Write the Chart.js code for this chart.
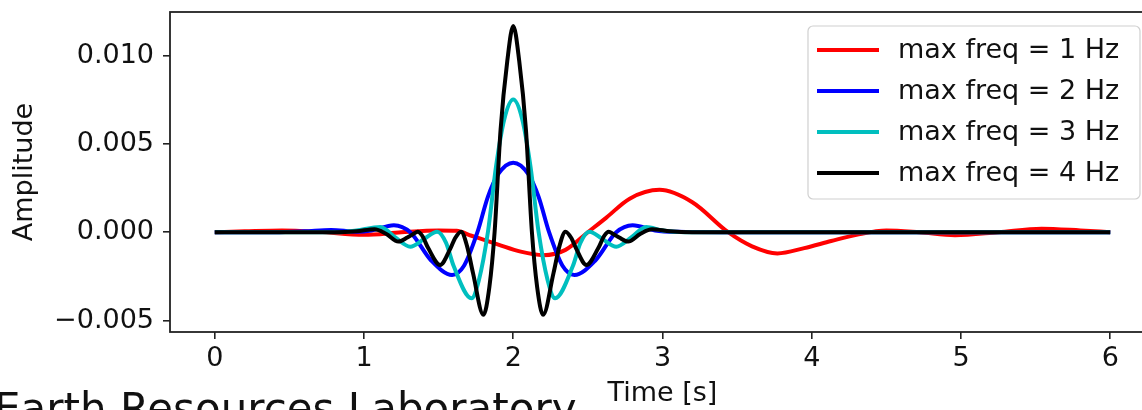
<!DOCTYPE html>
<html>
<head>
<meta charset="utf-8">
<script src="https://cdn.jsdelivr.net/npm/chart.js@4.4.1/dist/chart.umd.min.js"></script>
<style>
    html, body { margin: 0; padding: 0; background: #fff; overflow: hidden; }
    #wrap { position: relative; width: 1142px; height: 410px; overflow: hidden; }
    #box { position: absolute; left: 0; top: 0; width: 1160px; height: 410px; }
    #erl { position: absolute; left: -6px; top: 388px; font-family: "DejaVu Sans"; font-size: 42px;
           line-height: 42px; white-space: nowrap; color: #111; }
</style>
</head>
<body>
<div id="wrap">
    <div id="box"><canvas id="myChart"></canvas></div>
    <div id="erl">Earth Resources Laboratory</div>
</div>
<script>
// values (time in s, amplitude)
var seriesLabels = ["max freq = 1 Hz", "max freq = 2 Hz", "max freq = 3 Hz", "max freq = 4 Hz"];
var seriesColors = ["#ff0000", "#0000ff", "#00bfbf", "#000000"];

var time1 = [0, 0.2, 0.45, 0.7, 1.0, 1.25, 1.5, 1.62, 1.72, 1.9, 2.05, 2.2, 2.35, 2.5, 2.62, 2.78, 2.98, 3.2, 3.44, 3.6, 3.77, 3.95, 4.13, 4.3, 4.5, 4.72, 4.96, 5.25, 5.54, 5.8, 6.0];
var amp1 = [0, 0.00005, 0.0001, 0.00002, -0.00015, 0, 0.0001, 0.00008, -0.0002, -0.0007, -0.0011, -0.0013, -0.001, 0, 0.0008, 0.0019, 0.0024, 0.0017, 0, -0.0008, -0.0012, -0.0009, -0.0005, -0.00015, 0.0001, 0, -0.00017, 0, 0.0002, 0.0001, 0];

var time2 = [0, 0.4, 0.6, 0.78, 0.95, 1.05, 1.2, 1.31, 1.45, 1.59, 1.67, 1.76, 1.83, 1.9, 2.0, 2.1, 2.17, 2.24, 2.33, 2.41, 2.55, 2.69, 2.8, 2.95, 3.1, 3.4, 4, 5, 6];
var amp2 = [0, 0, 0.00005, 0.00013, 0.00003, 0.0001, 0.0004, 0, -0.0016, -0.00242, -0.0019, 0, 0.002, 0.0033, 0.00394, 0.0033, 0.002, 0, -0.0019, -0.00242, -0.0016, 0, 0.0004, 0.0001, 0.00002, 0, 0, 0, 0];

var time3 = [0, 0.5, 0.85, 0.95, 1.11, 1.21, 1.31, 1.4, 1.49, 1.55, 1.6, 1.72, 1.77, 1.83, 1.885, 1.94, 2.0, 2.06, 2.115, 2.17, 2.23, 2.28, 2.4, 2.45, 2.51, 2.6, 2.69, 2.79, 2.89, 3.0, 3.15, 4, 5, 6];
var amp3 = [0, 0, 0, 0.0001, 0.0003, -0.0003, -0.00082, -0.0004, 0.00003, -0.0006, -0.0019, -0.00374, -0.0027, 0, 0.00375, 0.0064, 0.00751, 0.0064, 0.00375, 0, -0.0027, -0.00374, -0.0019, -0.0006, 0.00003, -0.0004, -0.00082, -0.0003, 0.0003, 0.0001, 0, 0, 0, 0];

var time4 = [0, 0.5, 0.8, 0.95, 1.07, 1.15, 1.23, 1.29, 1.33, 1.36, 1.39, 1.43, 1.51, 1.58, 1.61, 1.65, 1.69, 1.73, 1.8, 1.84, 1.875, 1.915, 1.96, 2.0, 2.04, 2.085, 2.125, 2.16, 2.2, 2.27, 2.31, 2.35, 2.39, 2.42, 2.49, 2.57, 2.61, 2.64, 2.67, 2.71, 2.77, 2.85, 2.93, 3.05, 3.2, 4, 5, 6];
var amp4 = [0, 0, 0, 0.00005, 0.00017, -0.0001, -0.00053, -0.0003, -0.0001, 0.00003, -0.0002, -0.0009, -0.00185, -0.0009, -0.00034, 0.00003, -0.00077, -0.0023, -0.00468, -0.0031, 0, 0.0058, 0.0097, 0.01168, 0.0097, 0.0058, 0, -0.0031, -0.00468, -0.0023, -0.00077, 0.00003, -0.00034, -0.0009, -0.00185, -0.0009, -0.0002, 0.00003, -0.0001, -0.0003, -0.00053, -0.0001, 0.00017, 0.00005, 0, 0, 0, 0];

var xTicks = [0, 1, 2, 3, 4, 5, 6];
var yTicks = [-0.005, 0, 0.005, 0.010];

var times = [time1, time2, time3, time4];
var amps = [amp1, amp2, amp3, amp4];

function toPoints(t, a) {
    return t.map(function (v, i) { return { x: v, y: a[i] }; });
}

var datasets = seriesLabels.map(function (lab, i) {
    return {
        label: lab,
        data: toPoints(times[i], amps[i]),
        borderColor: seriesColors[i],
        backgroundColor: seriesColors[i],
        borderWidth: 4,
        pointRadius: 0,
        cubicInterpolationMode: "monotone",
        order: 4 - i
    };
});

var fontFam = "DejaVu Sans";
var axisColor = "#222";

// frame round the plot area
var frame = {
    id: "frame",
    afterDatasetsDraw: function (chart) {
        var a = chart.chartArea, ctx = chart.ctx;
        ctx.save();
        ctx.strokeStyle = axisColor;
        ctx.lineWidth = 1.8;
        ctx.strokeRect(a.left, a.top, a.right - a.left, a.bottom - a.top);
        ctx.restore();
    }
};

// legend drawn inside the plot, upper right
var insideLegend = {
    id: "insideLegend",
    afterDraw: function (chart) {
        var a = chart.chartArea, ctx = chart.ctx;
        var boxW = 332, boxH = 173, rowH = 41;
        var x0 = a.right - 15 - boxW;
        var y0 = a.top + 14;
        ctx.save();
        ctx.beginPath();
        ctx.roundRect(x0, y0, boxW, boxH, 5);
        ctx.fillStyle = "rgba(255,255,255,0.8)";
        ctx.fill();
        ctx.strokeStyle = "#d0d0d0";
        ctx.lineWidth = 1.2;
        ctx.stroke();
        ctx.font = "27px '" + fontFam + "'";
        ctx.textBaseline = "middle";
        chart.data.datasets.forEach(function (ds, i) {
            var y = y0 + 24 + i * rowH;
            ctx.beginPath();
            ctx.moveTo(x0 + 9, y);
            ctx.lineTo(x0 + 71, y);
            ctx.strokeStyle = ds.borderColor;
            ctx.lineWidth = 4;
            ctx.stroke();
            ctx.fillStyle = "#111";
            ctx.fillText(ds.label, x0 + 90, y + 1);
        });
        ctx.restore();
    }
};

Chart.defaults.color = "#111";
Chart.defaults.font.family = fontFam;

new Chart("myChart", {
    type: "line",
    data: { datasets: datasets },
    options: {
        responsive: true,
        maintainAspectRatio: false,
        animation: false,
        events: [],
        layout: { padding: { top: 12, right: 5, left: 0, bottom: 0 } },
        plugins: { legend: { display: false }, tooltip: { enabled: false } },
        scales: {
            x: {
                type: "linear",
                min: -0.3,
                max: 6.3,
                afterBuildTicks: function (s) { s.ticks = xTicks.map(function (v) { return { value: v }; }); },
                afterFit: function (s) { s.height = 78; s.paddingLeft = 0; s.paddingRight = 0; },
                grid: { drawOnChartArea: false, drawTicks: true, tickLength: 7, color: axisColor, lineWidth: 1.6 },
                border: { display: false },
                ticks: { font: { size: 27 }, padding: 4, maxRotation: 0, color: "#111" },
                title: { display: true, text: "Time [s]", font: { size: 27 }, padding: 0, color: "#111" }
            },
            y: {
                min: -0.00565,
                max: 0.01247,
                afterBuildTicks: function (s) { s.ticks = yTicks.map(function (v) { return { value: v }; }); },
                afterFit: function (s) { s.width = 170; s.paddingTop = 0; s.paddingBottom = 0; },
                grid: { drawOnChartArea: false, drawTicks: true, tickLength: 7, color: axisColor, lineWidth: 1.6 },
                border: { display: false },
                ticks: {
                    font: { size: 27 },
                    padding: 9,
                    color: "#111",
                    callback: function (v) { return v.toFixed(3).replace("-", "\u2212"); }
                },
                title: { display: true, text: "Amplitude", font: { size: 27 }, padding: { top: 9, bottom: 0 }, color: "#111" }
            }
        }
    },
    plugins: [frame, insideLegend]
});
</script>
</body>
</html>
